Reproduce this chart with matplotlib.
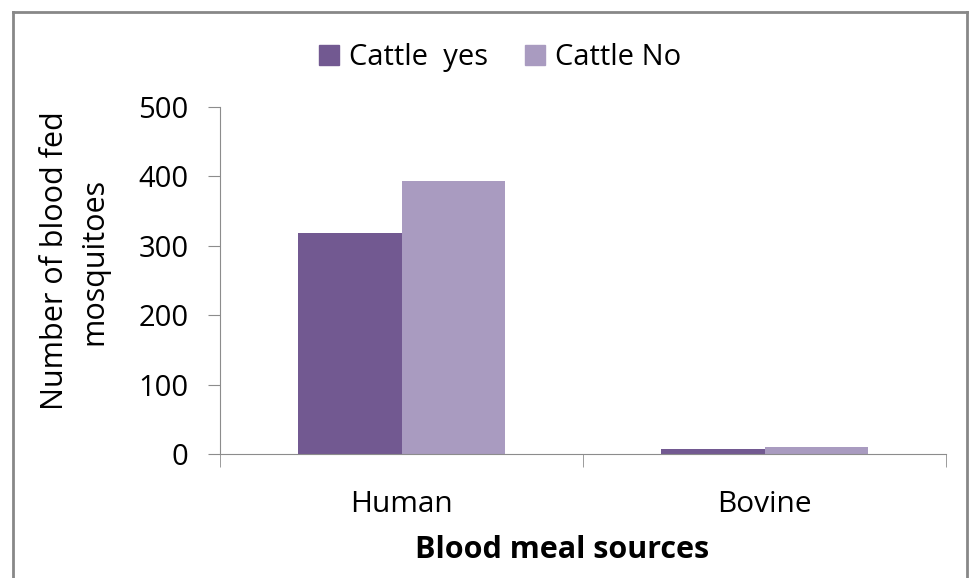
import numpy as np
import matplotlib.pyplot as plt
from matplotlib.lines import Line2D

plt.rcParams['font.family'] = ['Open Sans', 'DejaVu Sans']

sources = ['Human', 'Bovine']
cattle_yes = [318, 7]
cattle_no = [393, 10]
series_names = ['Cattle  yes', 'Cattle No']
colors = ['#725991', '#A99BC0']
yticks = [0, 100, 200, 300, 400, 500]

fig = plt.figure(figsize=(9.7, 5.78), dpi=100)
ax = fig.add_axes([0.2268, 0.2145, 0.7485, 0.6003])

x = np.arange(len(sources))
w = 0.286
ax.bar(x - w/2, cattle_yes, w, color=colors[0], label=series_names[0])
ax.bar(x + w/2, cattle_no, w, color=colors[1], label=series_names[1])

ax.set_xlim(-0.5, 1.5)
ax.set_ylim(0, 500)
ax.set_yticks(yticks)
ax.set_xticks(x)
ax.set_xticklabels(sources)
ax.set_xticks([-0.5, 0.5, 1.5], minor=True)

gray = '#8c8c8c'
for s in ['top', 'right']:
    ax.spines[s].set_visible(False)
ax.spines['left'].set_color(gray)
ax.spines['bottom'].set_color(gray)
ax.tick_params(axis='y', length=8.5, color=gray, pad=14, labelsize=21, labelcolor='#000000')
ax.tick_params(axis='x', which='major', length=0, pad=26, labelsize=21.5)
ax.tick_params(axis='x', which='minor', length=9, color=gray, direction='out')

ax.set_xlabel('Blood meal sources', fontsize=22, fontweight='bold')
ax.xaxis.set_label_coords(0.471, -0.232)
ax.set_ylabel('Number of blood fed\nmosquitoes', fontsize=22, linespacing=1.42)
ax.yaxis.set_label_coords(-0.152, 0.556)

handles = [Line2D([], [], marker='s', linestyle='none', markersize=15, color=c) for c in colors]
fig.legend(handles, series_names, loc='center', bbox_to_anchor=(0.513, 0.9), ncol=2,
           frameon=False, fontsize=21, handletextpad=0.2, columnspacing=1.1, handlelength=1.0)

# outer chart border
bx0, by1, bx1 = 13/970, 1 - 12/578, 967/970
fig.add_artist(Line2D([bx0, bx0], [0, by1], color='#888888', lw=2, transform=fig.transFigure))
fig.add_artist(Line2D([bx0, bx1], [by1, by1], color='#888888', lw=2, transform=fig.transFigure))
fig.add_artist(Line2D([bx1, bx1], [0, by1], color='#888888', lw=2, transform=fig.transFigure))

plt.savefig('out.png', dpi=100)
